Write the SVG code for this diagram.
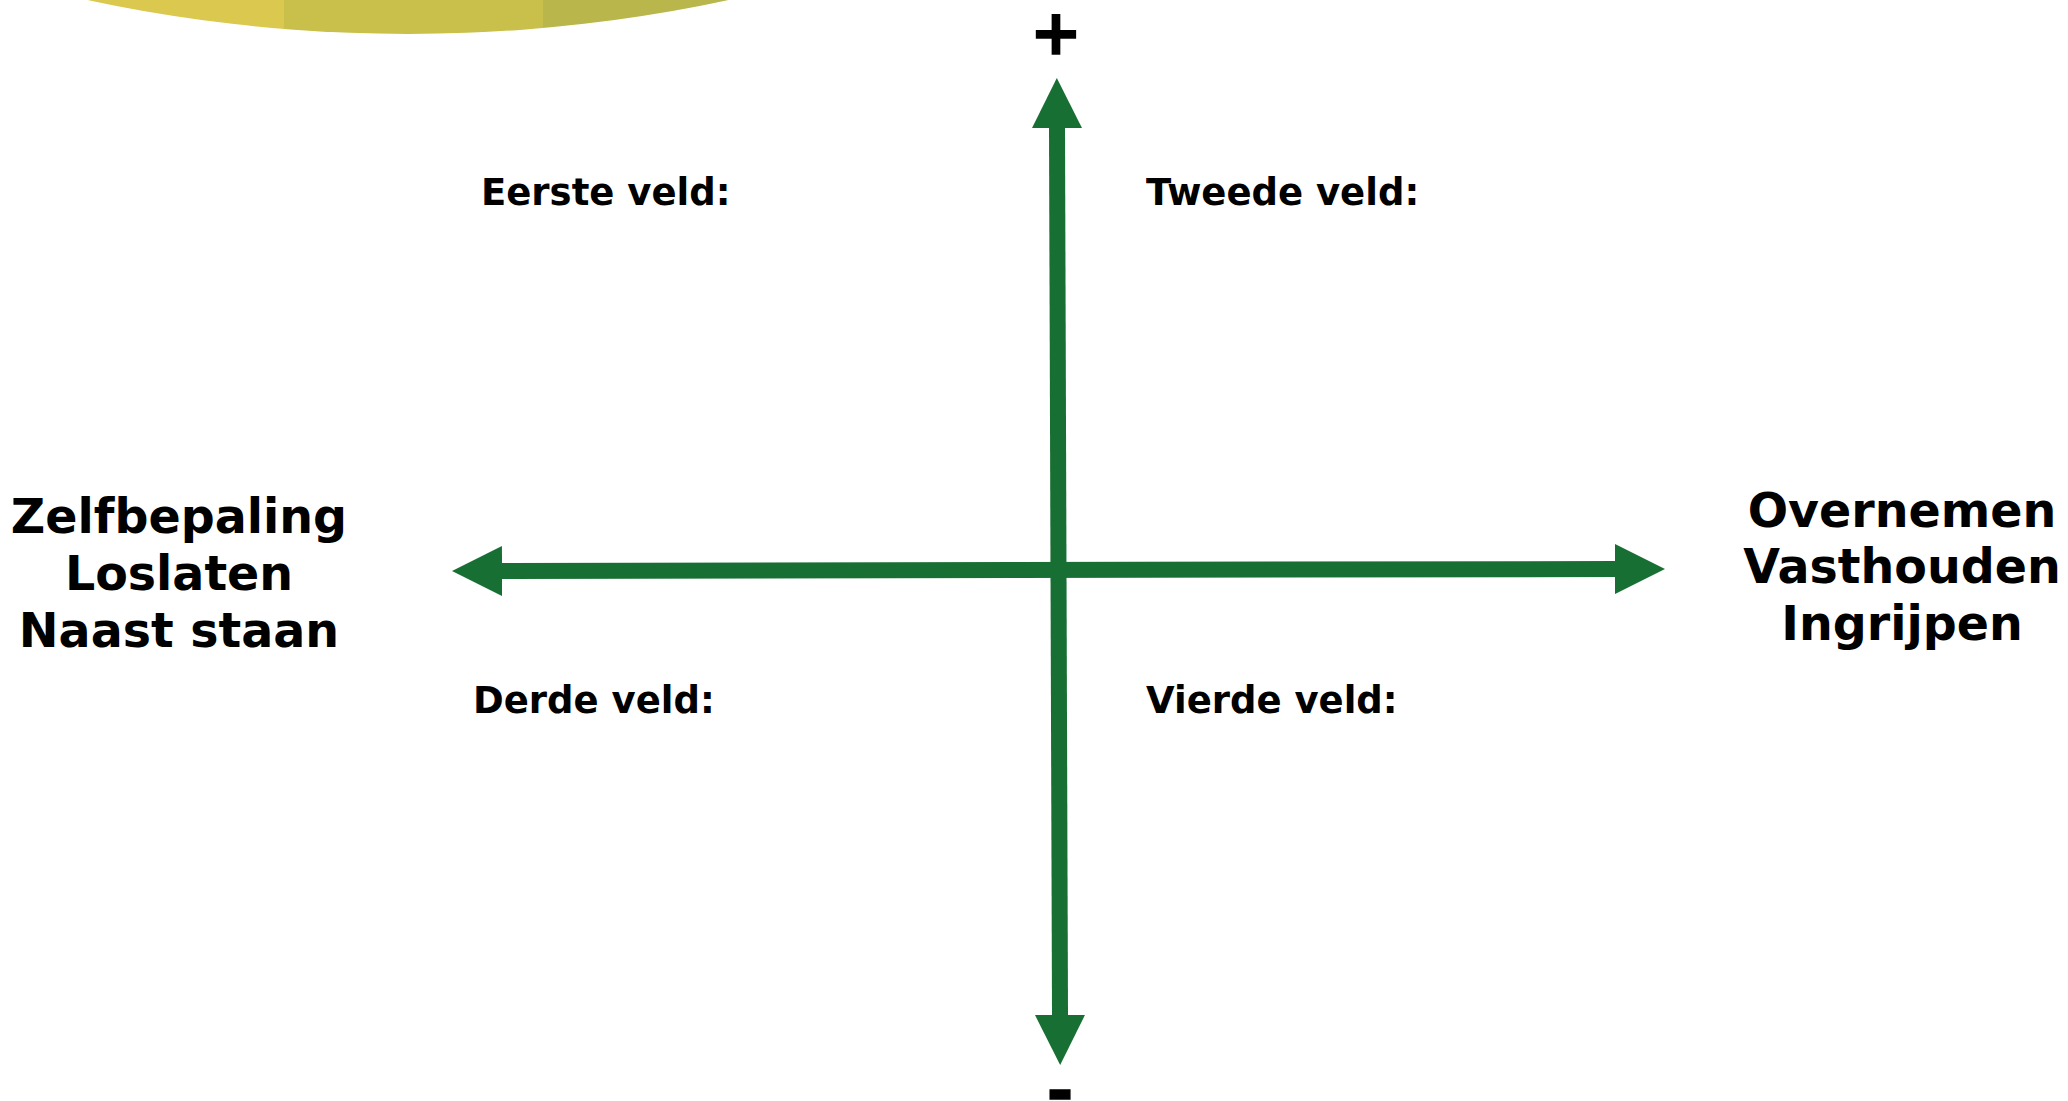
<svg xmlns="http://www.w3.org/2000/svg" width="2068" height="1101" viewBox="0 0 2068 1101">
  <style>
    .lbl { font-family: "DejaVu Sans", Verdana, sans-serif; font-weight: bold; fill: #000; }
    .big { font-size: 47.5px; text-anchor: middle; }
    .field { font-size: 37px; }
    .sign { text-anchor: middle; stroke: #000; stroke-width: 1.5; }
    .axis { stroke: #186F33; stroke-width: 16; fill: none; marker-start: url(#head); marker-end: url(#head); }
  </style>
  <defs>
    <marker id="head" markerUnits="userSpaceOnUse" markerWidth="50" markerHeight="50" viewBox="0 -24 48 48" refX="0" refY="0" orient="auto-start-reverse">
      <path d="M0,-24 L48,0 L0,24 Z" fill="#186F33"/>
    </marker>
    <clipPath id="blob">
      <ellipse cx="408" cy="-902" rx="1200" ry="936"/>
    </clipPath>
  </defs>
  <rect width="2068" height="1101" fill="#fff"/>
  <g id="chart-fragment" clip-path="url(#blob)">
    <rect x="0" y="0" width="284" height="40" fill="#DAC94E"/>
    <rect x="284" y="0" width="259" height="40" fill="#C9C04C"/>
    <rect x="543" y="0" width="260" height="40" fill="#B9B74B"/>
  </g>
  <g id="connectors">
    <line class="axis" x1="1057" y1="128" x2="1060" y2="1015"/>
    <line class="axis" x1="502" y1="571" x2="1615" y2="569"/>
  </g>
  <g id="plus"><text class="lbl sign" x="1056" y="54" font-size="62">+</text></g>
  <g id="minus"><text class="lbl sign" x="1060" y="1113" font-size="64">-</text></g>
  <g id="left-label">
    <text class="lbl big" x="179" y="533">Zelfbepaling</text>
    <text class="lbl big" x="179" y="590">Loslaten</text>
    <text class="lbl big" x="179" y="647">Naast staan</text>
  </g>
  <g id="right-label">
    <text class="lbl big" x="1902" y="527">Overnemen</text>
    <text class="lbl big" x="1902" y="583">Vasthouden</text>
    <text class="lbl big" x="1902" y="640">Ingrijpen</text>
  </g>
  <g id="field-1"><text class="lbl field" x="481" y="205">Eerste veld:</text></g>
  <g id="field-2"><text class="lbl field" x="1146" y="205">Tweede veld:</text></g>
  <g id="field-3"><text class="lbl field" x="473" y="713">Derde veld:</text></g>
  <g id="field-4"><text class="lbl field" x="1146" y="713">Vierde veld:</text></g>
</svg>
